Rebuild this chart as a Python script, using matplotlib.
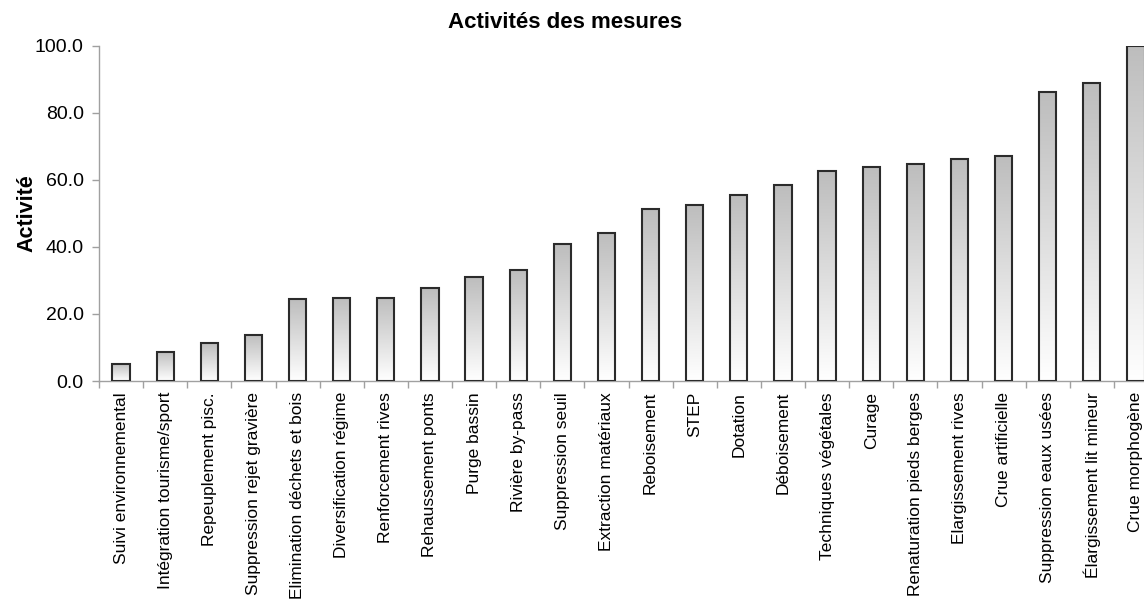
import matplotlib
matplotlib.use("Agg")
import matplotlib.pyplot as plt
import numpy as np
from matplotlib.patches import Rectangle
from matplotlib.colors import LinearSegmentedColormap

plt.rcParams['font.family'] = ['Liberation Sans', 'DejaVu Sans']

# data
categories = [
    "Suivi environnemental", "Intégration tourisme/sport", "Repeuplement pisc.",
    "Suppression rejet gravière", "Elimination déchets et bois", "Diversification régime",
    "Renforcement rives", "Rehaussement ponts", "Purge bassin", "Rivière by-pass",
    "Suppression seuil", "Extraction matériaux", "Reboisement", "STEP", "Dotation",
    "Déboisement", "Techniques végétales", "Curage", "Renaturation pieds berges",
    "Elargissement rives", "Crue artificielle", "Suppression eaux usées",
    "Élargissement lit mineur", "Crue morphogène",
]
activite = [5.1, 8.7, 11.2, 13.8, 24.4, 24.8, 24.8, 27.6, 31.0, 33.1, 40.8, 44.0,
            51.2, 52.5, 55.5, 58.4, 62.5, 63.8, 64.6, 66.3, 67.1, 86.1, 89.0, 100.0]
y_ticks = [0, 20, 40, 60, 80, 100]

fig = plt.figure(figsize=(11.44, 6.03), dpi=100)
ax = fig.add_axes([99 / 1144, 222 / 603, 1059 / 1144, 335.3 / 603])

# gray-to-white gradient, top to bottom of each bar
cmap = LinearSegmentedColormap.from_list("grad", ["#ffffff", "#bdbdbd"])
grad = np.linspace(0, 1, 256).reshape(-1, 1)
bar_w = 0.39
x = np.arange(len(categories))
bars = ax.bar(x, activite, width=bar_w, facecolor="none", edgecolor="#2b2b2b",
              linewidth=1.5, zorder=3)
for b in bars:
    x0, y0 = b.get_x(), b.get_y()
    w, h = b.get_width(), b.get_height()
    im = ax.imshow(grad, cmap=cmap, origin="lower", aspect="auto",
                   extent=[x0, x0 + w, y0, y0 + h], zorder=2)
    clip = Rectangle((x0, y0), w, h, transform=ax.transData)
    im.set_clip_path(clip)

ax.set_xlim(-0.5, len(categories) - 0.5)
ax.set_ylim(0, 100)

ax.set_yticks(y_ticks)
ax.set_yticklabels([f"{v:.1f}" for v in y_ticks], fontsize=14)
ax.set_xticks(x)
ax.set_xticklabels(categories, rotation=90, fontsize=12.5, va="top", ha="center")
ax.set_xticks(np.arange(-0.5, len(categories)), minor=True)
ax.tick_params(axis="x", which="major", length=0, pad=8)
ax.tick_params(axis="x", which="minor", length=5, color="#a0a0a0", width=1)
ax.tick_params(axis="y", length=5, color="#a0a0a0", width=1, pad=6)

for s in ["top", "right"]:
    ax.spines[s].set_visible(False)
for s in ["left", "bottom"]:
    ax.spines[s].set_color("#a0a0a0")
    ax.spines[s].set_linewidth(1)

ax.set_ylabel("Activité", fontsize=15.5, fontweight="bold", labelpad=-2)
fig.text(565 / 1144, 1 - 23 / 603, "Activités des mesures", fontsize=16,
         fontweight="bold", ha="center", va="center")

fig.savefig("out.png", dpi=100)
